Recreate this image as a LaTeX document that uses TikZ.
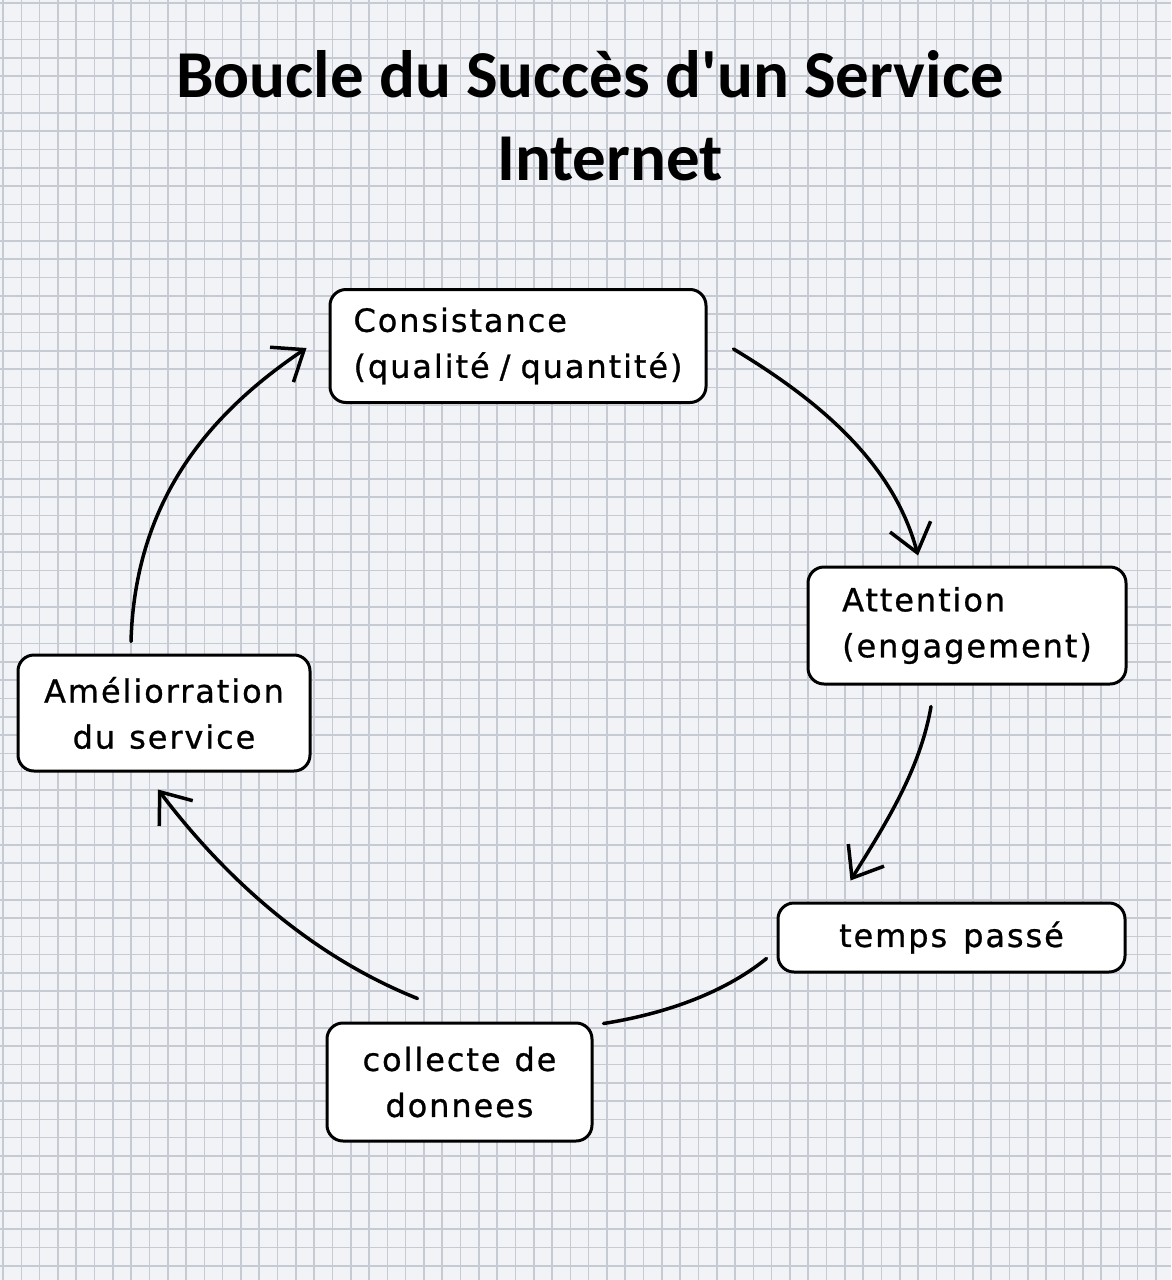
\documentclass[tikz,border=0pt]{standalone}
\usepackage{fontspec}
\usetikzlibrary{arrows.meta,calc}
\newfontfamily\handfont[LetterSpace=6,FakeBold=0.8]{DejaVu Sans}
\newfontfamily\titlefont{Carlito}
\definecolor{paper}{HTML}{F2F3F6}
\definecolor{gridc}{HTML}{C6CAD3}
\begin{document}
\begin{tikzpicture}[x=1pt,y=-1pt,
  box/.style={draw=black, line width=3pt, fill=white, rounded corners=16pt, inner sep=0pt,
    font=\handfont\fontsize{32}{46}\selectfont},
  flow/.style={line width=3.5pt, line cap=round, -{Straight Barb[length=27pt,width=42pt,line width=3.5pt]}},
  link/.style={line width=3.5pt, line cap=round},
  gridline/.style={gridc, line width=1.6pt},
  titletext/.style={font=\titlefont\bfseries\fontsize{67}{83}\selectfont, anchor=base, inner sep=0pt}]
\fill[paper] (0,0) rectangle (1171,1280);
\useasboundingbox (0,0) rectangle (1171,1280);
\foreach \i in {0,...,64} \draw[gridline] ({3+18.3*\i},0) -- ({3+18.3*\i},1280);
\foreach \j in {0,...,70} \draw[gridline] (0,{3+18.3*\j}) -- (1171,{3+18.3*\j});

\node[titletext] (title1) at (590,97) {Boucle du Succès d'un Service};
\node[titletext] (title2) at (610,180) {Internet};

\node[box, minimum width=376pt, minimum height=113pt, align=left] (cons) at (518,346) {Consistance\\(qualité\hspace{10pt}/\hspace{10pt}quantité)};
\node[box, minimum width=318pt, minimum height=117pt, align=left] (att) at (967,625.5) {Attention\\(engagement)};
\node[box, minimum width=347pt, minimum height=69pt] (temps) at (951.5,937.5) {temps\hspace{16pt}passé};
\node[box, minimum width=265pt, minimum height=118pt, align=center] (coll) at (459.5,1082) {collecte\hspace{14pt}de\\donnees};
\node[box, minimum width=292pt, minimum height=116pt, align=center] (amel) at (164,713) {Améliorration\\du\hspace{14pt}service};

\draw[flow] ($(cons.east)+(26,3)$) .. controls ($(cons.east)+(109,53)$) and ($(att.north)+(-74,-104)$) .. ($(att.north)+(-49,-10)$);
\draw[flow] ($(att.south)+(-36,21)$) .. controls ($(att.south)+(-47,85)$) and ($(temps.north)+(-67,-76)$) .. ($(temps.north)+(-101,-21)$);
\draw[link] ($(temps.west)+(-10,21)$) .. controls ($(temps.west)+(-55,57.5)$) and ($(coll.north east)+(67,-7)$) .. ($(coll.north east)+(10,2)$);
\draw[flow] ($(coll.north)+(-42,-23)$) .. controls ($(coll.north)+(-147,-65)$) and ($(amel.south)+(62,107)$) .. ($(amel.south)+(-6,17)$);
\draw[flow] ($(amel.north)+(-33,-12)$) .. controls ($(amel.north)+(-29,-150)$) and ($(cons.west)+(-123,70)$) .. ($(cons.west)+(-22,2)$);
\end{tikzpicture}
\end{document}
